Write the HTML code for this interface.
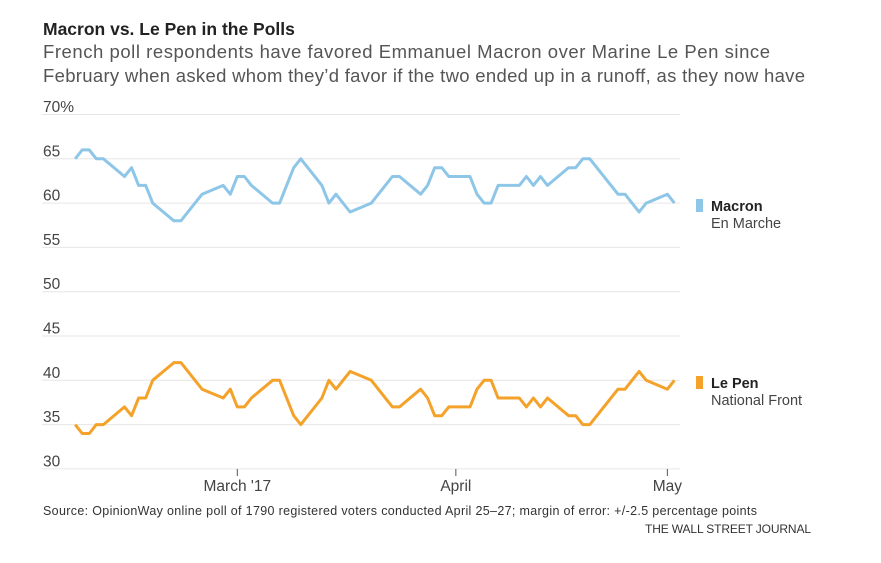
<!DOCTYPE html>
<html><head><meta charset="utf-8"><style>
body{margin:0;background:#fff}
svg{display:block;font-family:"Liberation Sans",sans-serif}
</style></head><body>
<svg id="chart" width="881" height="563">
<text x="43" y="35" font-size="17.5" font-weight="bold" fill="#222">Macron vs. Le Pen in the Polls</text>
<text x="43" y="58" font-size="18.5" fill="#555" textLength="727">French poll respondents have favored Emmanuel Macron over Marine Le Pen since</text>
<text x="43" y="82" font-size="18.5" fill="#555" textLength="762">February when asked whom they’d favor if the two ended up in a runoff, as they now have</text>
<g id="grid"></g>
<g id="xaxis"></g>
<g id="series"></g>
<g>
<rect x="696" y="199" width="7" height="13" fill="#8ec6e8"/>
<text x="711" y="211" font-size="14.5" font-weight="bold" fill="#222">Macron</text>
<text x="711" y="228" font-size="14.5" fill="#444">En Marche</text>
</g>
<g>
<rect x="696" y="376" width="7" height="13" fill="#f4a229"/>
<text x="711" y="388" font-size="14.5" font-weight="bold" fill="#222">Le Pen</text>
<text x="711" y="405" font-size="14.5" fill="#444">National Front</text>
</g>
<text x="43" y="515" font-size="12.5" fill="#333" textLength="714">Source: OpinionWay online poll of 1790 registered voters conducted April 25–27; margin of error: +/-2.5 percentage points</text>
<text x="811" y="533" font-size="12" fill="#333" text-anchor="end" textLength="166">THE WALL STREET JOURNAL</text>
</svg>
<script>
const days=[5,6,7,8,9,12,13,14,15,16,19,20,23,26,27,28,29,30,33,34,36,37,40,41,42,44,47,50,51,54,55,56,57,58,61,62,63,64,65,68,69,70,71,72,75,76,77,78,82,83,85,86,89,90];
const macron=[65,66,66,65,65,63,64,62,62,60,58,58,61,62,61,63,63,62,60,60,64,65,62,60,61,59,60,63,63,61,62,64,64,63,63,61,60,60,62,62,63,62,63,62,64,64,65,65,61,61,59,60,61,60];
const lepen=[35,34,34,35,35,37,36,38,38,40,42,42,39,38,39,37,37,38,40,40,36,35,38,40,39,41,40,37,37,39,38,36,36,37,37,39,40,40,38,38,37,38,37,38,36,36,35,35,39,39,41,40,39,40];
const yTicks=[70,65,60,55,50,45,40,35,30];
const yTickLabels=["70%","65","60","55","50","45","40","35","30"];
const xTickDays=[28,59,89];
const xTickLabels=["March '17","April","May"];
const NS="http://www.w3.org/2000/svg";
function X(d){return 237.3+(d-28)*7.05;}
function Y(v){return 114.5+(70-v)*8.86;}
function mk(tag,attrs,parent){const e=document.createElementNS(NS,tag);for(const k in attrs)e.setAttribute(k,attrs[k]);parent.appendChild(e);return e;}
const grid=document.getElementById('grid');
yTicks.forEach((v,i)=>{
  const l=mk('line',{x1:42,x2:680,y1:Y(v),y2:Y(v),stroke:'#e6e6e6','stroke-width':1},grid);
  
  
  const t=mk('text',{x:43,y:Y(v)-2.5,'font-size':15.5,fill:'#444'},grid);
  t.textContent=yTickLabels[i];
  
  
});
const xa=document.getElementById('xaxis');
xTickDays.forEach((d,i)=>{
  const l=mk('line',{x1:X(d),x2:X(d),y1:469,y2:476,stroke:'#555','stroke-width':1},xa);
  
  
  const t=mk('text',{x:X(d),y:491,'font-size':15.5,fill:'#444','text-anchor':'middle'},xa);
  t.textContent=xTickLabels[i];
  
  
});
const sg=document.getElementById('series');
function line(vals,color,name){
  const pts=vals.map((v,i)=>X(days[i]).toFixed(1)+','+Y(v).toFixed(1)).join(' ');
  const p=mk('polyline',{points:pts,fill:'none',stroke:color,'stroke-width':3,'stroke-linejoin':'round'},sg);
  
  
}
line(macron,'#8ec6e8','macron-line');
line(lepen,'#f4a229','lepen-line');
</script>
</body></html>
